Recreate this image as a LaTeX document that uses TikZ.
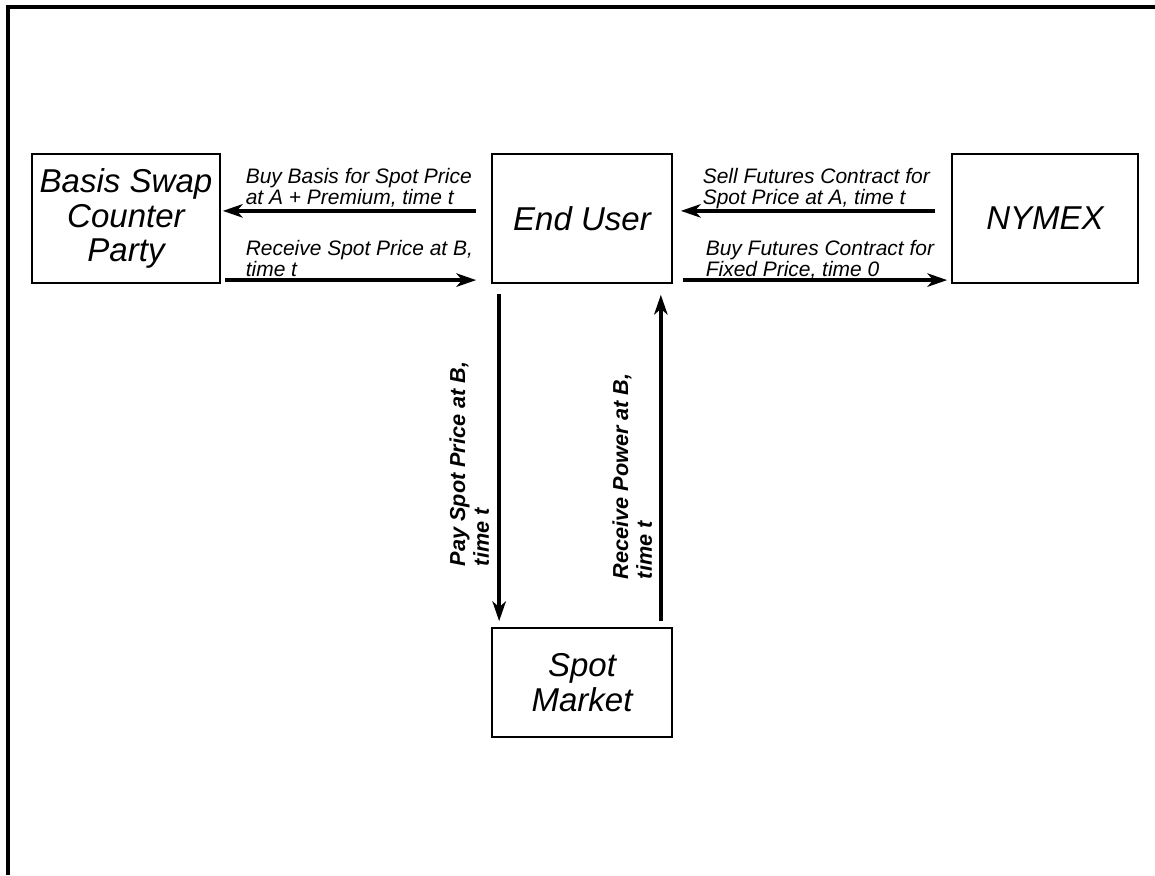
\documentclass[tikz,border=0pt]{standalone}
\usepackage{fontspec}
\setmainfont{Liberation Sans}
\usetikzlibrary{arrows.meta}

\tikzset{
every picture/.style={
line width=1.2pt
},
party/.style={draw, line width=1.2pt, inner sep=0pt, align=center, font=\fontsize{23.5}{24.8}\selectfont\itshape},
flow/.style={line width=2.6pt, -{Stealth[length=14pt,width=9.5pt,inset=4pt]}},
lbl/.style={inner sep=0pt, align=left, font=\fontsize{14.9}{15}\selectfont\itshape},
vlbl/.style={inner sep=0pt, align=left, rotate=90, font=\fontsize{15.4}{17}\selectfont\bfseries\itshape}
}

\begin{document}
\begin{tikzpicture}
  \useasboundingbox (0,0) rectangle (28.875,21.875);
  % frame
  \draw[line width=2.8pt] (0.2,0) -- (0.2,21.7) -- (28.875,21.7);

  % parties
  \node[party, minimum width=4.7cm, minimum height=3.225cm] (basis) at (3.15,16.4125) {Basis Swap\\Counter\\Party};
  \node[party, minimum width=4.5cm, minimum height=3.225cm] (user) at (14.55,16.4125) {End User};
  \node[party, minimum width=4.65cm, minimum height=3.225cm] (nymex) at (26.125,16.4125) {NYMEX};
  \node[party, minimum width=4.5cm, minimum height=2.725cm] (spot) at (14.55,4.8125) {Spot\\Market};

  % labels
  \node[lbl, anchor=north west] (buybasis) at (6.125,17.7) {Buy Basis for Spot Price\\at A + Premium, time t};
  \node[lbl, anchor=north west] (recvspot) at (6.125,15.9) {Receive Spot Price at B,\\time t};
  \node[lbl, anchor=north west] (sellfut) at (17.55,17.7) {Sell Futures Contract for\\Spot Price at A, time t};
  \node[lbl, anchor=north west] (buyfut) at (17.625,15.9) {Buy Futures Contract for\\Fixed Price, time 0};
  \node[vlbl, anchor=south west] (payspot) at (12.25,7.7) {Pay Spot Price at B,\\time t};
  \node[vlbl, anchor=south west] (recvpow) at (16.325,7.375) {Receive Power at B,\\time t};

  % flows
  \draw[flow, shorten <=0.375cm, shorten >=0.05cm] ([yshift=0.19cm]user.west) -- ([yshift=0.19cm]basis.east);
  \draw[flow, shorten <=0.1cm, shorten >=0.375cm] ([yshift=-1.54cm]basis.east) -- ([yshift=-1.54cm]user.west);
  \draw[flow, shorten <=0.4cm, shorten >=0.2cm] ([yshift=0.19cm]nymex.west) -- ([yshift=0.19cm]user.east);
  \draw[flow, shorten <=0.25cm, shorten >=0.1cm] ([yshift=-1.54cm]user.east) -- ([yshift=-1.54cm]nymex.west);
  \draw[flow, shorten <=0.25cm, shorten >=0.15cm] ([xshift=0.2cm]user.south west) -- ([xshift=0.2cm]spot.north west);
  \draw[flow, shorten <=0.15cm, shorten >=0.275cm] ([xshift=-0.3cm]spot.north east) -- ([xshift=-0.3cm]user.south east);
\end{tikzpicture}
\end{document}
